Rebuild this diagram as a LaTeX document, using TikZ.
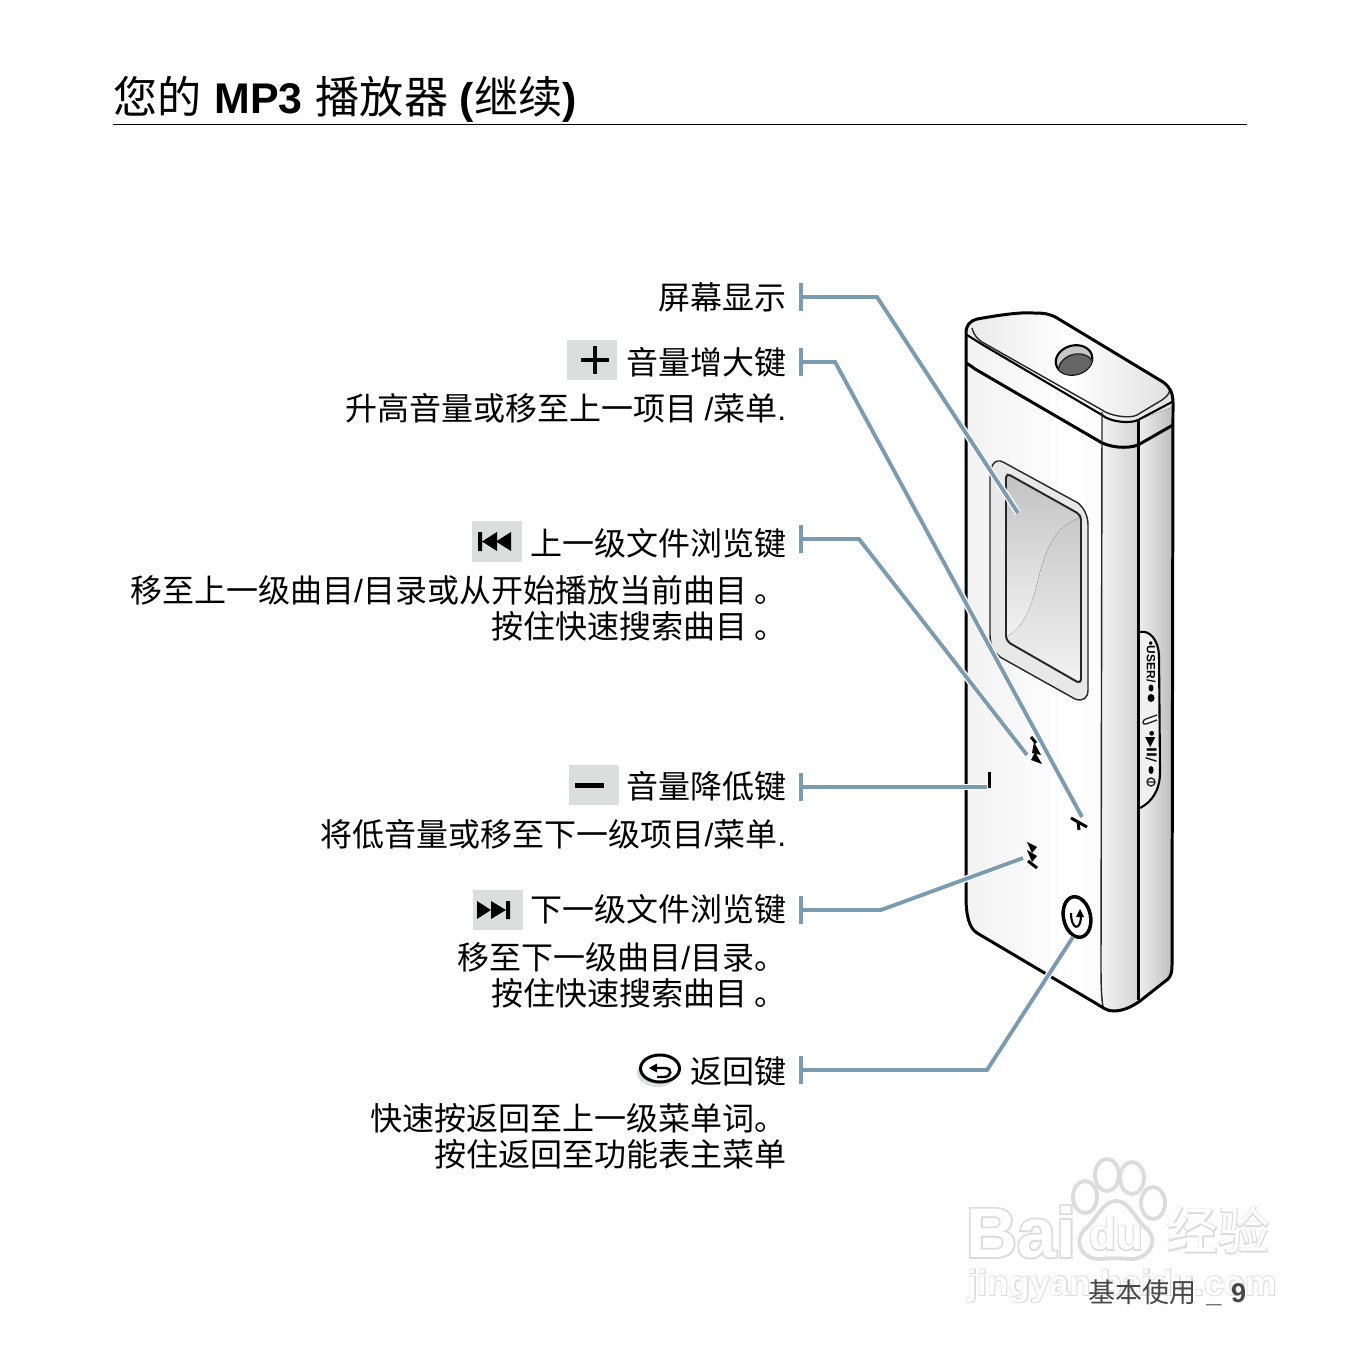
\documentclass[tikz,border=0pt]{standalone}
\usepackage{fontspec}
\setmainfont{Noto Sans CJK SC}
\newfontfamily\latf{Liberation Sans}
\newfontfamily\symf{DejaVu Sans}
\newfontfamily\wmfat[FakeBold=5]{Liberation Sans Bold}
\newfontfamily\wmthin{Liberation Sans Bold}
\newfontfamily\wmcjkfat[FakeBold=4]{Noto Sans CJK SC}
\newfontfamily\wmcjkthin{Noto Sans CJK SC}
\definecolor{cleader}{RGB}{122,155,176}
\definecolor{cbox}{RGB}{220,222,222}
\definecolor{cmark}{RGB}{220,220,220}
\tikzset{
  headline/.style={anchor=west,inner sep=0pt,font=\fontsize{12.55}{14}\selectfont},
  lbl/.style={anchor=east,inner sep=0pt,align=right,xshift=0.02cm,
    font=\fontsize{9.1}{10.24}\selectfont},
  iconbox/.style={fill=cbox,draw=none,inner sep=0pt,minimum width=0.5cm,
    minimum height=0.4cm},
  % leaders: the white halo keeps them clear of the player outline
  leader/.style={draw=cleader,line width=1.1pt,
    preaction={draw=white,line width=1.9pt}},
  thickline/.style={line width=0.85pt,black},
  thinline/.style={line width=0.4pt,black!85},
  solid mark/.style={fill=black,draw=none},
  wmpaw/.style={draw=cmark,line width=1.1pt,fill=white}
}
\newcommand{\bodypath}{(966,333) .. controls (966,325) and (970,321) .. (977,319)
  .. controls (1000,315) and (1020,312) .. (1033,313)
  .. controls (1045,313) and (1050,314) .. (1057,318) -- (1163,382)
  .. controls (1170,387) and (1173,393) .. (1173,403) -- (1172,965)
  .. controls (1172,972) and (1171,976) .. (1168,979) -- (1140,1001)
  .. controls (1130,1008) and (1122,1011) .. (1113,1011)
  .. controls (1107,1011) and (1102,1007) .. (1097,1004) -- (977,933)
  .. controls (969,928) and (966,915) .. (966,897) -- cycle}
\newcommand{\hd}[1]{{\latf\bfseries\fontsize{12.2}{14}\selectfont #1}}
\newcommand{\lt}[1]{{\latf #1}}
\begin{document}
\begin{tikzpicture}[x=0.01cm,y=-0.01cm]
  \useasboundingbox (0,0) rectangle (1361,1361);
  % Baidu watermark, under everything else
  \foreach \fnt/\col in {\wmfat/cmark,\wmthin/white}
    \node[inner sep=0pt,text=\col,font=\fnt\fontsize{20}{22}\selectfont] at (1021,1232) {Bai};
  \foreach \fnt/\col in {\wmcjkfat/cmark,\wmcjkthin/white}
    \node[inner sep=0pt,text=\col,font=\fnt\fontsize{14.6}{16}\selectfont] at (1218,1230) {经验};
  \foreach \fnt/\col in {\wmfat/cmark,\wmthin/white}
    \node[inner sep=0pt,text=\col,font=\fnt\fontsize{10}{12}\selectfont] at (1122,1286) {jingyan.baidu.com};
  \draw[wmpaw] (1085,1197) ellipse (12 and 16);
  \draw[wmpaw] (1107,1175) ellipse (12 and 16);
  \draw[wmpaw] (1132,1178) ellipse (12 and 16);
  \draw[wmpaw] (1153,1203) ellipse (12 and 16);
  \draw[wmpaw] (1116,1201) .. controls (1130,1201) and (1135,1220) .. (1148,1230)
    .. controls (1160,1245) and (1145,1260) .. (1130,1259)
    .. controls (1120,1258) and (1110,1258) .. (1100,1259)
    .. controls (1085,1260) and (1072,1245) .. (1084,1230)
    .. controls (1097,1220) and (1102,1201) .. (1116,1201) -- cycle;
  \foreach \fnt/\col in {\wmfat/cmark,\wmthin/white}
    \node[inner sep=0pt,text=\col,font=\fnt\fontsize{12.5}{14}\selectfont] at (1116,1234) {du};

  % heading
  \node[headline] (head) at (113,99) {您的\hspace{3.6pt}\hd{MP3}\hspace{3.7pt}播放器\hspace{3.3pt}\hd{(}继续\hd{)}};
  \draw[line width=0.25pt] (113,124) -- (1247,124);

  % player body
  \fill[left color=black!5,right color=black!4,middle color=white] \bodypath;
  \begin{scope}
    \clip \bodypath;
    \fill[left color=black!5,right color=black!17] (1102,400) rectangle (1138,1015);
    \fill[left color=black!6,right color=black!27] (1138,400) rectangle (1175,1015);
    \fill[left color=black!9,right color=black!13,middle color=white]
      (960,300) -- (1180,300) -- (1180,404) -- (1138,420)
      .. controls (1130,424) and (1110,422) .. (1102,415) -- (983,345) -- (960,332) -- cycle;
  \end{scope}
  \draw[thinline] (972,328) .. controls (974,336) and (978,339) .. (982,342) -- (1102,410)
    .. controls (1110,416) and (1130,419) .. (1137,415) -- (1162,400)
    .. controls (1168,396) and (1170,392) .. (1170,388);
  \draw[thickline,line width=0.6pt] (967,335) -- (983,345) -- (1102,415)
    .. controls (1110,422) and (1130,424) .. (1138,420) -- (1172,402);
  \draw[thickline] (966,363) .. controls (968,364) and (971,366) .. (975,369) -- (1097,440)
    .. controls (1108,448) and (1128,449) .. (1138,445) -- (1173,425);
  \draw[thinline] (1102,412) -- (1101,960) .. controls (1101,980) and (1101,995) .. (1103,1007);
  \draw[thickline] (1138,420) -- (1138,1000);
  \draw[thickline] \bodypath;

  % headphone socket
  \begin{scope}[rotate around={15:(1074,360)}]
    \draw[thickline,line width=0.6pt,fill=black!22] (1074,360) ellipse (18.5 and 14.5);
    \clip (1074,360) ellipse (18.5 and 14.5);
    \draw[thinline,fill=black!60] (1074,369) ellipse (18 and 14.5);
  \end{scope}

  % display
  \draw[thinline,fill=black!9] (990,478) .. controls (990,465) and (995,458) .. (1003,462)
    -- (1078,503) .. controls (1084,508) and (1088,516) .. (1088,525) -- (1088,690)
    .. controls (1088,698) and (1083,702) .. (1075,699) -- (1000,657)
    .. controls (994,652) and (990,645) .. (990,635) -- cycle;
  \fill[top color=black!24,bottom color=white] (1006,473) -- (1081,515) -- (1081,682) -- (1006,640) -- cycle;
  \fill[top color=black!21,bottom color=black!5] (1079,518) .. controls (1060,525) and (1050,540) .. (1042,565)
    .. controls (1035,590) and (1030,625) .. (1006,637) -- (1008,642) -- (1077,683) -- (1081,682) -- (1081,518) -- cycle;
  \draw[thinline,line width=0.55pt,rounded corners=1.5] (1006,473) -- (1081,515) -- (1081,684) -- (1006,641) -- cycle;

  % slide switch on the side
  \draw[thickline,line width=0.6pt,fill=black!6] (1140,632) .. controls (1150,630) and (1158,640) .. (1159,655)
    -- (1160,772) .. controls (1160,790) and (1152,802) .. (1140,808);
  \draw[thinline,fill=white] (1157,715) -- (1146,719) .. controls (1142,720) and (1142,725) .. (1146,724) -- (1157,720);
  \node[rotate=-90,inner sep=0pt,font=\latf\bfseries\fontsize{3.4}{4}\selectfont] (txtuser) at (1151,662) {•USER/};
  \fill (1151,688) ellipse (2.5 and 3.5);
  \fill (1151,698) ellipse (3.5 and 4);
  \node[rotate=-90,inner sep=0pt,font=\symf\bfseries\fontsize{3.8}{4}\selectfont] (txtplay) at (1151,746) {•▶II/};
  \fill (1151,770) ellipse (2.5 and 4);
  \draw[thinline] (1151,782) circle (4) (1147,782) -- (1155,782);

  % buttons printed on the front
  \draw[thickline] (989,772) -- (989,788);
  \fill[solid mark] (1034,742) -- (1041,755) -- (1032,753) -- cycle;
  \fill[solid mark] (1035,752) -- (1042,764) -- (1031,760) -- cycle;
  \draw[thickline] (1031,737) -- (1036,743);
  \fill[solid mark] (1027,842) -- (1037,847) -- (1032,853) -- cycle;
  \fill[solid mark] (1027,850) -- (1037,856) -- (1032,862) -- cycle;
  \draw[thickline] (1028,861) -- (1037,868);
  \draw[thickline,line width=1pt,rotate around={12:(1077,917)}] (1077,917) ellipse (13.5 and 20.5);
  \draw[thickline,line width=0.6pt] (1071,913) .. controls (1071,930) and (1081,932) .. (1081,915);
  \fill[solid mark] (1076,917) -- (1084,917) -- (1080,909) -- cycle;

  % leaders from label to part
  \coordinate (tickscreen) at (801,297);
  \coordinate (tipscreen) at (1018,513);
  \coordinate (tickplus) at (801,362);
  \coordinate (tipplus) at (1082,817);
  \coordinate (tickprev) at (801,539);
  \coordinate (tipprev) at (1027,755);
  \coordinate (tickminus) at (801,787);
  \coordinate (tipminus) at (987,787);
  \coordinate (ticknext) at (801,910);
  \coordinate (tipnext) at (1023,858);
  \coordinate (tickback) at (801,1070);
  \coordinate (tipback) at (1073,937);
  \draw[leader] (tickscreen) ++(0,-14) -- ++(0,28) (tickscreen) -- ++(76,0) -- (tipscreen);
  \draw[leader] (tickplus) ++(0,-14) -- ++(0,28) (tickplus) -- ++(34,0) -- (tipplus);
  \draw[leader] (tickprev) ++(0,-14) -- ++(0,28) (tickprev) -- ++(58,0) -- (tipprev);
  \draw[leader] (tickminus) ++(0,-14) -- ++(0,28) (tickminus) -- (tipminus);
  \draw[leader] (ticknext) ++(0,-14) -- ++(0,28) (ticknext) -- ++(80,0) -- (tipnext);
  \draw[leader] (tickback) ++(0,-14) -- ++(0,28) (tickback) -- ++(186,0) -- (tipback);
  % the plus sits on top of its leader's halo
  \draw[thickline] (1071,818) -- (1087,827) (1078,822) -- (1079,830);

  % labels
  \node[lbl] (lblscreen) at (785,297) {屏幕显示};
  \node[iconbox] (boxplus) at (592,360) {};
  \draw[line width=1.15pt] (581,360) -- (609,360) (595,346) -- (595,374);
  \node[lbl] (lblplus) at (785,362) {音量增大键};
  \node[lbl] (txtplus) at (785,408.5) {升高音量或移至上一项目 \lt{/}菜单\lt{.}};
  \node[iconbox] (boxprev) at (497,541.5) {};
  \fill[solid mark] (478,532) rectangle (482,551) (497,532) -- (497,551) -- (482,541.5) -- cycle
    (511,532) -- (511,551) -- (496,541.5) -- cycle;
  \node[lbl] (lblprev) at (785,543) {上一级文件浏览键};
  \node[lbl] (txtprev) at (785,608) {移至上一级曲目\lt{/}目录或从开始播放当前曲目 。\\按住快速搜索曲目 。};
  \node[iconbox] (boxminus) at (594,785) {};
  \fill[solid mark] (575,783) rectangle (604,787.5);
  \node[lbl] (lblminus) at (785,786) {音量降低键};
  \node[lbl] (txtminus) at (785,834.5) {将低音量或移至下一级项目\lt{/}菜单\lt{.}};
  \node[iconbox] (boxnext) at (498,910) {};
  \fill[solid mark] (506,901) rectangle (510,919) (477,901) -- (477,919) -- (491,910) -- cycle
    (491,901) -- (491,919) -- (506,910) -- cycle;
  \node[lbl] (lblnext) at (785,909) {下一级文件浏览键};
  \node[lbl] (txtnext) at (785,975) {移至下一级曲目\lt{/}目录。\\按住快速搜索曲目 。};
  % return icon with its grey shadow
  \fill[cbox] (657,1072.5) ellipse (20 and 14.5);
  \draw[line width=0.85pt,fill=white] (660,1068.5) ellipse (19.5 and 13.5);
  \draw[line width=0.7pt] (656,1068) -- (666,1068) .. controls (672,1068) and (672,1077) .. (664,1077) -- (657,1077);
  \fill[solid mark] (649,1068) -- (657,1063.5) -- (657,1072.5) -- cycle;
  \node[lbl] (lblback) at (785,1071) {返回键};
  \node[lbl] (txtback) at (785,1136) {快速按返回至上一级菜单词。\\按住返回至功能表主菜单};

  % page foot
  \node[anchor=east,inner sep=0pt,text=black!72,font=\fontsize{7.7}{9}\selectfont] (foot) at (1247,1293)
    {基本使用\hspace{2.8pt}{\latf\bfseries\_}\hspace{2.8pt}{\latf\bfseries 9}};
\end{tikzpicture}
\end{document}
